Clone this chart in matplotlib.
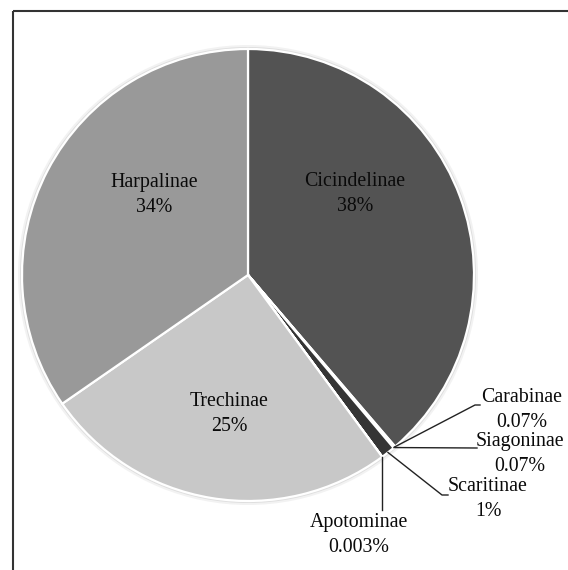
import matplotlib
matplotlib.use("Agg")
import matplotlib.pyplot as plt
from matplotlib.patches import Circle
import numpy as np

# Share of species per subfamily (Carabidae)
subfamilies = ["Cicindelinae", "Carabinae", "Siagoninae", "Scaritinae",
               "Apotominae", "Trechinae", "Harpalinae"]
shares = [38, 0.07, 0.07, 1, 0.003, 25, 34]
share_labels = ["38%", "0.07%", "0.07%", "1%", "0.003%", "25%", "34%"]
colors = ["#535353", "#4a4a4a", "#4a4a4a", "#353535", "#6a6a6a",
          "#c8c8c8", "#999999"]

W, H = 568, 570
fig = plt.figure(figsize=(W / 100, H / 100), dpi=100)
ax = fig.add_axes([0, 0, 1, 1])

def py(y):
    # pixel row (from top) to axes y
    return H - y

cx, cy, R = 248, py(275), 226

# soft halo around the pie
for dr, c in [(4, "#f2f2f2"), (2, "#dedede")]:
    ax.add_patch(Circle((cx, cy), R + dr, facecolor=c, edgecolor="none", zorder=1))

wedges, _ = ax.pie(shares, colors=colors, startangle=90, counterclock=False,
                   center=(cx, cy), radius=R, frame=True,
                   wedgeprops=dict(edgecolor="white", linewidth=1.6, zorder=2))
ax.set_xlim(0, W)
ax.set_ylim(0, H)
ax.set_aspect("equal")
ax.axis("off")

font = dict(family="Liberation Serif", fontsize=14.3, color="#0a0a0a",
            ha="center", va="center", linespacing=1.4, zorder=5)

def label(i, x, y):
    ax.text(x, py(y), f"{subfamilies[i]}\n{share_labels[i]}", **font)

def anchor(i):
    w = wedges[i]
    mid = np.deg2rad((w.theta1 + w.theta2) / 2)
    return cx + R * np.cos(mid), cy + R * np.sin(mid)

# labels inside the large slices
label(0, 355, 194)
label(6, 154, 195)
label(5, 229, 414)

# small slices with leader lines
line = dict(color="#222222", linewidth=1.0, zorder=4)

ax0, ay0 = anchor(1)
ax.plot([ax0, 475, 480], [ay0, py(405), py(405)], **line)
label(1, 522, 410)

ax1, ay1 = anchor(2)
ax.plot([ax1, 477], [ay1, py(448)], **line)
label(2, 520, 454)

ax2, ay2 = anchor(3)
ax.plot([ax2, 442, 448], [ay2, py(495), py(495)], **line)
label(3, 488, 499)

ax3, ay3 = anchor(4)
ax.plot([ax3, ax3], [ay3, py(510)], **line)
label(4, 359, 535)

# chart frame (top and left edges visible)
ax.plot([13, W], [py(11), py(11)], color="#333333", linewidth=1.5, zorder=6,
        solid_capstyle="butt")
ax.plot([13, 13], [py(11), 0], color="#333333", linewidth=1.5, zorder=6,
        solid_capstyle="butt")

fig.savefig("out.png", dpi=100, facecolor="white")
